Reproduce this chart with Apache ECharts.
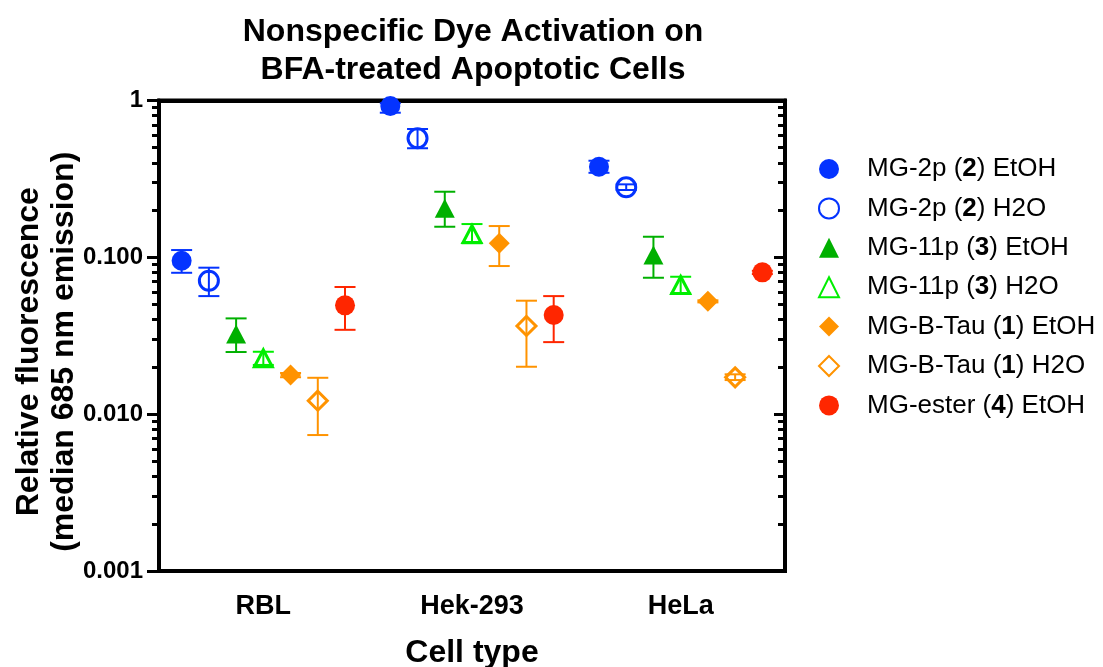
<!DOCTYPE html>
<html><head><meta charset="utf-8">
<script src="https://cdn.jsdelivr.net/npm/echarts@6/dist/echarts.min.js"></script>
<style>html,body{margin:0;padding:0;background:#fff}#c{width:1103px;height:667px}</style>
</head><body><div id="c"></div>
<script>
// ---- data ----
const categories = ['RBL', 'Hek-293', 'HeLa'];
const seriesNames = ['MG-2p (2) EtOH', 'MG-2p (2) H2O', 'MG-11p (3) EtOH', 'MG-11p (3) H2O',
  'MG-B-Tau (1) EtOH', 'MG-B-Tau (1) H2O', 'MG-ester (4) EtOH'];
const yTickLabels = ['0.001', '0.010', '0.100', '1'];

// value, lower error, upper error per cell type [RBL, Hek-293, HeLa]
const mg2pEtOH      = [0.0951, 0.922, 0.378];
const mg2pEtOHLow   = [0.0797, 0.836, 0.346];
const mg2pEtOHHigh  = [0.1113, 0.960, 0.413];

const mg2pH2O       = [0.0709, 0.574, 0.2795];
const mg2pH2OLow    = [0.0566, 0.496, 0.2687];
const mg2pH2OHigh   = [0.0859, 0.658, 0.292];

const mg11pEtOH     = [0.0324, 0.2054, 0.1034];
const mg11pEtOHLow  = [0.0249, 0.1567, 0.0741];
const mg11pEtOHHigh = [0.0408, 0.262, 0.1353];

const mg11pH2O      = [0.0227, 0.1408, 0.0666];
const mg11pH2OLow   = [0.0206, 0.123, 0.0589];
const mg11pH2OHigh  = [0.0250, 0.163, 0.0752];

const tauEtOH       = [0.01776, 0.1228, 0.0524];
const tauEtOHLow    = [0.0172, 0.088, 0.0516];
const tauEtOHHigh   = [0.0183, 0.1583, 0.0532];

const tauH2O        = [0.01218, 0.0365, 0.01717];
const tauH2OLow     = [0.00736, 0.02006, 0.0165];
const tauH2OHigh    = [0.01706, 0.0529, 0.01795];

const esterEtOH     = [0.0494, 0.0429, 0.0802];
const esterEtOHLow  = [0.0345, 0.0288, 0.0782];
const esterEtOHHigh = [0.0647, 0.0566, 0.0821];

// ---- styling ----
const BLUE = '#0433FF', DKGREEN = '#00B000', LTGREEN = '#00EE00', ORANGE = '#FF9300', RED = '#FF2600';
const FONT = 'Liberation Sans';
const gridLeft = 159, gridRight = 318, gridTop = 100.5, gridBottom = 96;
const bandWidth = (1103 - gridLeft - gridRight) / categories.length;
const step = bandWidth * 0.1305;

const defs = [
  {v: mg2pEtOH, lo: mg2pEtOHLow, hi: mg2pEtOHHigh, color: BLUE, symbol: 'circle', size: 20, open: false},
  {v: mg2pH2O, lo: mg2pH2OLow, hi: mg2pH2OHigh, color: BLUE, symbol: 'circle', size: 19, open: true},
  {v: mg11pEtOH, lo: mg11pEtOHLow, hi: mg11pEtOHHigh, color: DKGREEN, symbol: 'triangle', size: [20, 19], open: false},
  {v: mg11pH2O, lo: mg11pH2OLow, hi: mg11pH2OHigh, color: LTGREEN, symbol: 'triangle', size: [18, 17], open: true},
  {v: tauEtOH, lo: tauEtOHLow, hi: tauEtOHHigh, color: ORANGE, symbol: 'diamond', size: [21, 21], open: false},
  {v: tauH2O, lo: tauH2OLow, hi: tauH2OHigh, color: ORANGE, symbol: 'diamond', size: [19, 19], open: true},
  {v: esterEtOH, lo: esterEtOHLow, hi: esterEtOHHigh, color: RED, symbol: 'circle', size: 20, open: false}
];

const minorTicks = [];
for (let d = -3; d < 0; d++) for (let k = 2; k <= 9; k++) minorTicks.push(Math.log10(k * Math.pow(10, d)));

const series = [];
defs.forEach((s, idx) => {
  const off = (idx - 3) * step;
  series.push({
    type: 'custom', name: 'err' + idx, z: 2, silent: true,
    data: categories.map((c, i) => [i, Math.log10(s.lo[i]), Math.log10(s.hi[i])]),
    renderItem(params, api) {
      const lo = api.coord([api.value(0), api.value(1)]);
      const hi = api.coord([api.value(0), api.value(2)]);
      const x = lo[0] + off, hw = 10.5;
      const st = {stroke: s.color, lineWidth: 2};
      return {type: 'group', children: [
        {type: 'line', shape: {x1: x, y1: lo[1], x2: x, y2: hi[1]}, style: st},
        {type: 'line', shape: {x1: x - hw, y1: lo[1], x2: x + hw, y2: lo[1]}, style: st},
        {type: 'line', shape: {x1: x - hw, y1: hi[1], x2: x + hw, y2: hi[1]}, style: st}
      ]};
    }
  });
  series.push({
    type: 'scatter', name: seriesNames[idx], z: 3,
    symbol: s.symbol, symbolSize: s.size, symbolOffset: [off, 0],
    itemStyle: s.open ? {color: 'rgba(255,255,255,0)', borderColor: s.color, borderWidth: 3, opacity: 1}
                      : {color: s.color, borderWidth: 0, opacity: 1},
    data: categories.map((c, i) => [i, Math.log10(s.v[i])])
  });
});

const yBase = {type: 'value', min: -3, max: 0, interval: 1, splitLine: {show: false}};
const option = {
  animation: false,
  backgroundColor: '#fff',
  title: {
    text: 'Nonspecific Dye Activation on\nBFA-treated Apoptotic Cells',
    left: 473, top: 13, textAlign: 'center', padding: 0,
    textStyle: {fontFamily: FONT, fontSize: 32, fontWeight: 'bold', color: '#000', lineHeight: 38}
  },
  grid: {left: gridLeft, right: gridRight, top: gridTop, bottom: gridBottom, show: true,
         containLabel: false, outerBoundsMode: 'none',
         borderColor: '#000', borderWidth: 4, backgroundColor: 'transparent'},
  legend: {
    orient: 'vertical', left: 818, top: 156, padding: 0, itemWidth: 20, itemHeight: 20, itemGap: 13.4,
    data: seriesNames,
    formatter: n => n.replace(/\((\d)\)/, '({b|$1})'),
    textStyle: {fontFamily: FONT, fontSize: 26, color: '#000', lineHeight: 26, padding: [0, 0, 0, 23],
      rich: {b: {fontFamily: FONT, fontSize: 26, fontWeight: 'bold', color: '#000', lineHeight: 26}}}
  },
  xAxis: [
    {type: 'category', data: categories, position: 'bottom', boundaryGap: true,
     axisLine: {lineStyle: {color: '#000', width: 4}},
     axisTick: {alignWithLabel: true, length: 11, lineStyle: {color: '#000', width: 3}},
     axisLabel: {fontFamily: FONT, fontSize: 27, fontWeight: 'bold', color: '#000', margin: 22},
     name: 'Cell type', nameLocation: 'middle', nameGap: 66, nameMoveOverlap: false,
     nameTextStyle: {fontFamily: FONT, fontSize: 32, fontWeight: 'bold', color: '#000'}},
    {type: 'category', data: categories, position: 'top', boundaryGap: true,
     axisLine: {lineStyle: {color: '#000', width: 4}}, axisTick: {show: false}, axisLabel: {show: false}}
  ],
  yAxis: [
    Object.assign({}, yBase, {position: 'left',
      axisLine: {show: true, lineStyle: {color: '#000', width: 4}},
      axisTick: {show: true, length: 12, lineStyle: {color: '#000', width: 3}},
      axisLabel: {fontFamily: FONT, fontSize: 24, fontWeight: 'bold', color: '#000', margin: 16,
                  formatter: v => yTickLabels[Math.round(v) + 3]},
      name: 'Relative fluorescence\n(median 685 nm emission)', nameLocation: 'middle', nameGap: 77,
      nameMoveOverlap: false,
      nameTextStyle: {fontFamily: FONT, fontSize: 32, fontWeight: 'bold', color: '#000', lineHeight: 35,
                      padding: [0, 32, 0, 0]}}),
    Object.assign({}, yBase, {position: 'left', axisLine: {show: false},
      axisTick: {show: true, length: 7, customValues: minorTicks, lineStyle: {color: '#000', width: 3}},
      axisLabel: {show: false}}),
    Object.assign({}, yBase, {position: 'right',
      axisLine: {show: true, lineStyle: {color: '#000', width: 4}},
      axisTick: {show: true, inside: true, length: 11, lineStyle: {color: '#000', width: 3}},
      axisLabel: {show: false}}),
    Object.assign({}, yBase, {position: 'right', axisLine: {show: false},
      axisTick: {show: true, inside: true, length: 7, customValues: minorTicks, lineStyle: {color: '#000', width: 3}},
      axisLabel: {show: false}})
  ],
  series: series
};
const chart = echarts.init(document.getElementById('c'), null, {renderer: 'canvas'});
chart.setOption(option);
</script>
</body></html>
